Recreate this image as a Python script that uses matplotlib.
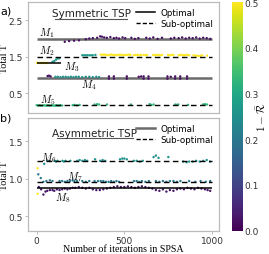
import matplotlib
matplotlib.use("Agg")
import matplotlib.pyplot as plt
from matplotlib.lines import Line2D

plt.rcParams["mathtext.fontset"] = "cm"

# ---- data: symmetric TSP (top panel) ----
m1_x = [160, 185, 213, 241, 280, 300, 320, 345, 362, 372, 385, 400, 420, 440, 455, 470, 490, 505,
        540, 560, 580, 625, 645, 665, 690, 715, 765, 785, 810, 830, 850, 870, 890, 910, 930, 950, 970, 990]
m1_y = [1.91, 1.93, 1.94, 1.95, 1.98, 2.00, 2.01, 2.02, 2.06, 2.05, 2.03, 2.02, 2.04, 2.01, 2.02, 2.00, 2.03, 2.01,
        2.02, 1.99, 2.01, 2.02, 2.00, 2.03, 1.99, 2.02, 2.00, 2.02, 2.01, 2.03, 2.00, 2.02, 2.01, 2.03, 2.00, 2.02, 2.01, 1.99]
m1_c = 0.02

m3_x = [2, 10, 20, 30, 40, 50, 60]
m3_y = [1.33, 1.33, 1.33, 1.33, 1.33, 1.33, 1.33]
m3_c = 0.5

m23_teal_x = [90, 100, 110, 120, 130, 260, 270, 280, 290, 300, 310, 320, 335]
m23_teal_y = [1.36, 1.38, 1.42, 1.45, 1.46, 1.54, 1.54, 1.54, 1.54, 1.54, 1.54, 1.54, 1.55]
m23_teal_c = 0.27

m2_x = [365, 375, 385, 395, 405, 415, 425, 435, 445, 455, 465, 475, 485, 495, 505, 515, 525, 535,
        555, 565, 575, 585, 595, 610, 620, 630, 665, 675, 685, 695, 705, 715, 750, 760, 770, 780,
        810, 820, 830, 840, 850, 860, 870, 895, 905, 915, 925, 935, 945, 972]
m2_y = [1.56, 1.55, 1.56, 1.55, 1.54, 1.55, 1.56, 1.55, 1.55, 1.54, 1.55, 1.56, 1.55, 1.54, 1.55, 1.55, 1.56, 1.55,
        1.54, 1.55, 1.55, 1.54, 1.55, 1.55, 1.54, 1.55, 1.55, 1.54, 1.55, 1.55, 1.54, 1.55, 1.55, 1.54, 1.55, 1.55,
        1.54, 1.55, 1.55, 1.54, 1.55, 1.55, 1.54, 1.54, 1.53, 1.53, 1.52, 1.53, 1.54, 1.53]
m2_c = 0.5

m4_purple_x = [62, 70, 79, 412, 412, 440, 440, 514, 514, 582, 596, 610, 610, 638, 638,
               746, 746, 765, 790, 790, 819, 819, 858, 858]
m4_purple_y = [0.97, 0.98, 0.96, 0.90, 0.96, 0.90, 0.96, 0.90, 0.96, 0.95, 0.96, 0.90, 0.96, 0.90, 0.96,
               0.90, 0.96, 0.95, 0.90, 0.96, 0.90, 0.96, 0.90, 0.96]
m4_purple_c = 0.02
m4_teal_x = [107, 120, 135, 150, 165, 180, 195, 210, 225, 240, 260, 280, 300, 320, 340, 356]
m4_teal_y = [0.95, 0.95, 0.94, 0.95, 0.95, 0.94, 0.95, 0.94, 0.95, 0.95, 0.94, 0.95, 0.95, 0.94, 0.95, 0.94]
m4_teal_c = 0.25

m5_x = [0, 8, 16, 24, 32, 40, 48, 56, 64, 72, 80, 88, 96, 104, 112, 120, 128, 136, 145,
        205, 215, 230, 245, 330, 345, 356, 401, 537, 644, 655, 667, 791, 800, 808, 864, 949, 960, 972]
m5_y = [0.17, 0.16, 0.17, 0.16, 0.16, 0.17, 0.16, 0.16, 0.17, 0.16, 0.16, 0.17, 0.16, 0.16, 0.17, 0.16, 0.16, 0.17, 0.16,
        0.17, 0.18, 0.17, 0.18, 0.19, 0.20, 0.19, 0.19, 0.19, 0.20, 0.18, 0.19, 0.19, 0.18, 0.19, 0.18, 0.19, 0.20, 0.19]
m5_c = 0.33

sym_levels = [2.0, 1.5, 0.93, 0.17]
sym_styles = ["opt", "sub", "opt", "sub"]
m3_level = 1.33
m3_span = [0, 140]

# ---- data: asymmetric TSP (bottom panel) ----
start_x = [5, 5]
start_y = [1.14, 0.80]
start_c = 0.5

m6_x = [43, 62, 102, 110, 119, 147, 155, 164, 192, 232, 245, 260, 275, 288, 333, 362, 376, 390, 475, 488, 500,
        514, 554, 570, 588, 605, 667, 680, 695, 751, 836, 855, 870, 890, 910, 930, 950, 970, 989]
m6_y = [1.20, 1.24, 1.24, 1.23, 1.24, 1.24, 1.23, 1.24, 1.24, 1.24, 1.25, 1.24, 1.25, 1.24, 1.26, 1.24, 1.25, 1.24,
        1.26, 1.27, 1.27, 1.26, 1.24, 1.24, 1.23, 1.24, 1.29, 1.31, 1.28, 1.29, 1.23, 1.22, 1.23, 1.23, 1.24, 1.23,
        1.24, 1.25, 1.23]
m6_c = 0.25

m7_x = [9, 23, 38, 55, 75, 90, 130, 145, 160, 175, 190, 205, 215, 230, 260, 280, 300, 330, 350, 365, 380, 395,
        410, 425, 440, 455, 470, 555, 570, 585, 600, 620, 640, 680, 700, 720, 740, 760, 780, 800, 820, 870, 905,
        935, 965, 990]
m7_y = [1.06, 1.01, 0.96, 0.97, 0.98, 0.97, 0.97, 0.97, 0.96, 0.97, 0.97, 0.98, 0.97, 0.97, 0.97, 0.96, 0.97, 0.97,
        0.97, 0.97, 0.97, 0.96, 0.96, 0.97, 0.96, 0.97, 0.96, 0.97, 0.97, 0.96, 0.97, 0.96, 0.97, 0.97, 0.96, 0.97,
        0.96, 0.97, 0.97, 0.96, 0.97, 0.97, 0.96, 0.97, 0.96, 0.97]
m7_c = 0.2

m8_x = [12, 25, 38, 50, 60, 75, 90, 100, 115, 130, 145, 160, 175, 190, 205, 220, 240, 260, 280, 300, 320, 340,
        360, 380, 400, 420, 440, 460, 480, 500, 520, 540, 560, 580, 600, 620, 640, 660, 680, 700, 720, 740, 760,
        780, 800, 820, 840, 860, 880, 900, 920, 940, 960, 975, 990]
m8_y = [0.89, 0.86, 0.79, 0.83, 0.84, 0.85, 0.85, 0.84, 0.86, 0.85, 0.86, 0.87, 0.86, 0.87, 0.88, 0.88, 0.89, 0.88,
        0.87, 0.88, 0.86, 0.85, 0.85, 0.86, 0.87, 0.88, 0.89, 0.90, 0.89, 0.89, 0.90, 0.89, 0.88, 0.89, 0.90, 0.89,
        0.88, 0.87, 0.85, 0.84, 0.86, 0.83, 0.85, 0.84, 0.86, 0.87, 0.86, 0.88, 0.87, 0.86, 0.88, 0.87, 0.86, 0.85,
        0.84]
m8_c = 0.03

asym_levels = [1.24, 0.955, 0.875]
asym_styles = ["sub", "sub", "opt_thin"]

CMAP = "viridis"
VMIN, VMAX = 0.0, 0.5
SPINE = "#bbbbbb"
SERIF = "Liberation Serif"


def style_axes(ax):
    for s in ax.spines.values():
        s.set_color(SPINE)
        s.set_linewidth(0.9)
    ax.tick_params(labelcolor="#333333", labelsize=6.5, length=2.5, width=0.7, pad=1.2, color=SPINE)


def scatter(ax, x, y, c):
    ax.scatter(x, y, c=[c] * len(x), cmap=CMAP, vmin=VMIN, vmax=VMAX,
               s=3, marker="o", linewidths=0, zorder=2)


def level(ax, y, kind, x0=0, x1=1000):
    if kind == "opt":
        ax.hlines(y, x0, x1, colors="#6b6b6b", linewidth=1.8, zorder=1)
    elif kind == "opt_thin":
        ax.hlines(y, x0, x1, colors="black", linewidth=1.1, zorder=3)
    else:
        ax.hlines(y, x0, x1, colors="black", linewidth=1.0, linestyles=(0, (4, 2.5)), zorder=3)


def underlined_title(ax, text, x, y, x0, x1, yline):
    ax.text(x, y, text, transform=ax.transAxes, ha="center", va="center", fontsize=7.5, color="#222222")
    ax.add_line(Line2D([x0, x1], [yline, yline], transform=ax.transAxes, color="#555555", linewidth=0.8))


def legend(ax, opt_color, opt_lw):
    handles = [Line2D([], [], color=opt_color, lw=opt_lw),
               Line2D([], [], color="black", lw=1.0, ls=(0, (3, 1.5)))]
    ax.legend(handles, ["Optimal", "Sub-optimal"], loc="upper right", frameon=False, fontsize=6.3,
              handlelength=2.2, handletextpad=0.6, labelspacing=0.25, borderaxespad=0.25,
              bbox_to_anchor=(1.0, 1.0))


fig = plt.figure(figsize=(2.69, 2.55), dpi=100)
fig.patch.set_facecolor("white")

ax1 = fig.add_axes([0.104, 0.552, 0.710, 0.436])
ax2 = fig.add_axes([0.104, 0.092, 0.710, 0.441])

# top panel
for yv, kind in zip(sym_levels, sym_styles):
    level(ax1, yv, kind)
ax1.hlines(m3_level, m3_span[0], m3_span[1], colors="black", linewidth=1.1, zorder=3)
scatter(ax1, m1_x, m1_y, m1_c)
scatter(ax1, m3_x, m3_y, m3_c)
scatter(ax1, m23_teal_x, m23_teal_y, m23_teal_c)
scatter(ax1, m2_x, m2_y, m2_c)
scatter(ax1, m4_purple_x, m4_purple_y, m4_purple_c)
scatter(ax1, m4_teal_x, m4_teal_y, m4_teal_c)
scatter(ax1, m5_x, m5_y, m5_c)

ax1.set_xlim(-50, 1040)
ax1.set_ylim(-0.05, 3.0)
ax1.set_yticks([0.5, 1.5, 2.5])
ax1.set_xticks([])
style_axes(ax1)
ax1.set_ylabel("Total T", family=SERIF, fontsize=7.2)
ax1.yaxis.set_label_coords(-0.1, 0.5)
underlined_title(ax1, "Symmetric TSP", 0.33, 0.905, 0.14, 0.52, 0.852)
legend(ax1, "black", 1.1)

lab = dict(fontsize=7.5, ha="left", va="center")
ax1.text(15, 2.17, r"$M_1$", **lab)
ax1.text(15, 1.67, r"$M_2$", **lab)
ax1.text(155, 1.25, r"$M_3$", **lab)
ax1.text(250, 0.76, r"$M_4$", **lab)
ax1.text(17, 0.35, r"$M_5$", **lab)

# bottom panel
for yv, kind in zip(asym_levels, asym_styles):
    level(ax2, yv, kind)
scatter(ax2, start_x, start_y, start_c)
scatter(ax2, m6_x, m6_y, m6_c)
scatter(ax2, m7_x, m7_y, m7_c)
scatter(ax2, m8_x, m8_y, m8_c)

ax2.set_xlim(-50, 1040)
ax2.set_ylim(0.31, 1.81)
ax2.set_yticks([0.5, 1.0, 1.5])
ax2.set_xticks([0, 500, 1000])
style_axes(ax2)
ax2.set_ylabel("Total T", family=SERIF, fontsize=7.2)
ax2.yaxis.set_label_coords(-0.1, 0.5)
ax2.set_xlabel("Number of iterations in SPSA", family=SERIF, fontsize=7.2, labelpad=-0.5)
underlined_title(ax2, "Asymmetric TSP", 0.35, 0.868, 0.15, 0.55, 0.82)
legend(ax2, "#6b6b6b", 1.8)

ax2.text(25, 1.29, r"$M_6$", **lab)
ax2.text(175, 1.04, r"$M_7$", **lab)
ax2.text(105, 0.75, r"$M_8$", **lab)

fig.text(0.0, 0.953, "a)", fontsize=8, ha="left", va="center")
fig.text(0.0, 0.537, "b)", fontsize=8, ha="left", va="center")

# colorbar
cax = fig.add_axes([0.862, 0.092, 0.041, 0.896])
sm = plt.cm.ScalarMappable(cmap=CMAP, norm=plt.Normalize(VMIN, VMAX))
cb = fig.colorbar(sm, cax=cax)
cb.set_ticks([0.0, 0.1, 0.2, 0.3, 0.4, 0.5])
cb.outline.set_visible(False)
cax.tick_params(labelsize=6.5, length=0, pad=1, colors="#333333")
fig.text(0.972, 0.54, r"$1-\bar{\mathcal{R}}$", rotation=90, fontsize=8, ha="center", va="center")

fig.savefig("out.png", dpi=100)
